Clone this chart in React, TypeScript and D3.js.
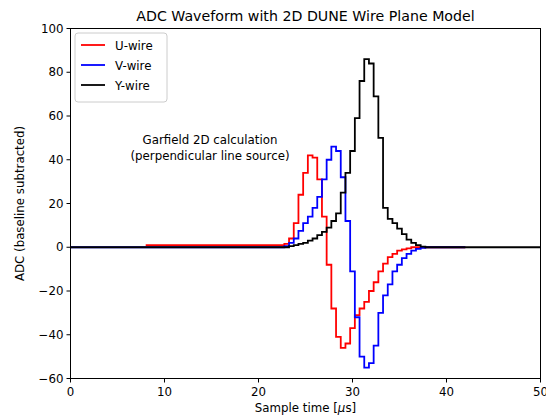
import React from "react";
import * as d3 from "d3";

const title = "ADC Waveform with 2D DUNE Wire Plane Model";
const xTicks = [0, 10, 20, 30, 40, 50];
const yTicks = [-60, -40, -20, 0, 20, 40, 60, 80, 100];
const seriesNames = ["U-wire", "V-wire", "Y-wire"];
const seriesColors = ["#ff0000", "#0000ff", "#000000"];

// sample times of the pulse region (µs)
const pulseTimes = [
  22.5, 23, 23.5, 24, 24.5, 25, 25.5, 26, 26.5, 27, 27.5, 28, 28.5, 29, 29.5, 30,
  30.5, 31, 31.5, 32, 32.5, 33, 33.5, 34, 34.5, 35, 35.5, 36, 36.5, 37, 37.5, 38,
];
const uValues = [
  1, 1.5, 4, 11, 24, 34, 42, 41, 31, 14, -8, -28, -41, -46, -44, -37,
  -31, -28, -25, -20, -16, -11, -7.5, -4.5, -3, -1.5, -1, -0.5, 0, 0, 0, 0,
];
const vValues = [
  0, 0.5, 2, 4, 7.5, 11, 14, 18, 23, 31, 40, 46, 44, 32, 12, -11,
  -32, -50, -55, -53, -45, -30, -22, -17, -11, -8, -5, -3, -1.5, -0.7, -0.3, 0,
];
const yValues = [
  0, 0, 0.5, 1, 1.5, 2, 3, 4, 5.5, 7, 9, 12, 15.5, 25, 34, 44,
  59, 76, 86, 84, 69, 50, 18, 13, 11, 8.5, 6, 3.5, 2, 1, 0.3, 0,
];
// flat parts outside the pulse
const uFlat = { start: 8, startLevel: 1, end: 42, endLevel: 0 };
const vFlat = { start: 0, startLevel: 0, end: 42, endLevel: 0 };
const yFlat = { start: 0, startLevel: 0, end: 50, endLevel: 0 };

const W = 546;
const H = 418;
const L = 70.5;
const R = 540.5;
const T = 28.5;
const B = 378.5;
const FONT = "DejaVu Sans, sans-serif";

function buildSeries(
  values: number[],
  flat: { start: number; startLevel: number; end: number; endLevel: number }
) {
  const pts: [number, number][] = [];
  pts.push([flat.start, flat.startLevel]);
  pulseTimes.forEach((t, i) => pts.push([t, values[i]]));
  pts.push([flat.end, flat.endLevel]);
  return pts;
}

export default function App() {
  const x = d3.scaleLinear().domain([0, 50]).range([L, R]);
  const y = d3.scaleLinear().domain([-60, 100]).range([B, T]);
  const line = d3
    .line<[number, number]>()
    .x((d) => x(d[0]))
    .y((d) => y(d[1]))
    .curve(d3.curveStep);

  const series = [
    buildSeries(uValues, uFlat),
    buildSeries(vValues, vFlat),
    buildSeries(yValues, yFlat),
  ];

  return (
    <svg
      width={W}
      height={H}
      style={{ position: "absolute", left: 0, top: 0, background: "#fff" }}
      fontFamily={FONT}
    >
      <rect x={0} y={0} width={W} height={H} fill="#fff" />
      <defs>
        <clipPath id="plotclip">
          <rect x={L} y={T} width={R - L} height={B - T} />
        </clipPath>
      </defs>
      <g clipPath="url(#plotclip)">
        {series.map((s, i) => (
          <path
            key={i}
            d={line(s) || ""}
            fill="none"
            stroke={seriesColors[i]}
            strokeWidth={1.8}
            strokeLinejoin="miter"
          />
        ))}
      </g>
      <rect x={L} y={T} width={R - L} height={B - T} fill="none" stroke="#000" strokeWidth={1} />
      {xTicks.map((t) => (
        <g key={"x" + t}>
          <line x1={x(t)} x2={x(t)} y1={B} y2={B + 4} stroke="#000" strokeWidth={1} />
          <text x={x(t)} y={B + 17} fontSize={11.8} textAnchor="middle" fill="#000">
            {t}
          </text>
        </g>
      ))}
      {yTicks.map((t) => (
        <g key={"y" + t}>
          <line x1={L - 4} x2={L} y1={y(t)} y2={y(t)} stroke="#000" strokeWidth={1} />
          <text x={L - 7} y={y(t) + 4.2} fontSize={11.8} textAnchor="end" fill="#000">
            {t < 0 ? "\u2212" + Math.abs(t) : t}
          </text>
        </g>
      ))}
      <text x={(L + R) / 2} y={412} fontSize={11.8} textAnchor="middle" fill="#000">
        Sample time [<tspan fontStyle="italic">μ</tspan>s]
      </text>
      <text
        transform={`translate(${24},${(T + B) / 2}) rotate(-90)`}
        fontSize={11.8}
        textAnchor="middle"
        fill="#000"
      >
        ADC (baseline subtracted)
      </text>
      <text x={(L + R) / 2} y={21} fontSize={14.2} textAnchor="middle" fill="#000">
        {title}
      </text>
      <text x={210} y={144} fontSize={11.8} textAnchor="middle" fill="#000">
        Garfield 2D calculation
      </text>
      <text x={210} y={160} fontSize={11.8} textAnchor="middle" fill="#000">
        (perpendicular line source)
      </text>
      <g>
        <rect x={75} y={33} width={92} height={69} rx={3} fill="#fff" fillOpacity={0.8} stroke="#cccccc" strokeWidth={1} />
        {seriesNames.map((n, i) => (
          <g key={n}>
            <line x1={81} x2={105} y1={45 + i * 20} y2={45 + i * 20} stroke={seriesColors[i]} strokeWidth={1.8} />
            <text x={115} y={49.5 + i * 20} fontSize={11.8} fill="#000">
              {n}
            </text>
          </g>
        ))}
      </g>
    </svg>
  );
}
